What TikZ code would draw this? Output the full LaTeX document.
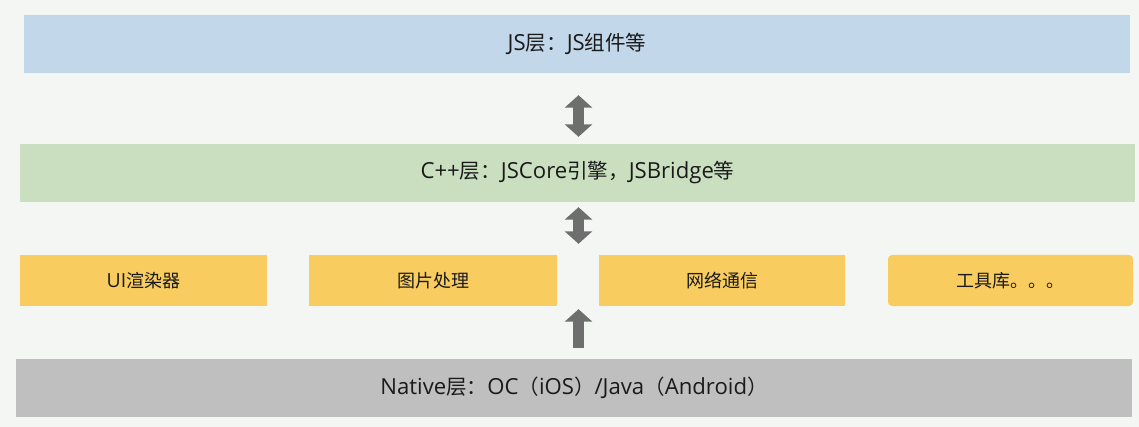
\documentclass[tikz,border=0pt]{standalone}
\usepackage{fontspec}
\setmainfont{Noto Sans CJK SC}
\newfontfamily\lat[Scale=1.08]{Open Sans}
\usetikzlibrary{arrows.meta,positioning}
\definecolor{bgcol}{HTML}{F3F6F2}
\definecolor{jsblue}{HTML}{C2D7EA}
\definecolor{cppgreen}{HTML}{CADFC0}
\definecolor{modyellow}{HTML}{F8CC5E}
\definecolor{nativegray}{HTML}{BFBFBF}
\definecolor{arrowgray}{HTML}{6E6E6E}
\definecolor{txtcol}{HTML}{1A1A1A}
\tikzset{
  layer/.style={inner sep=0pt, text=txtcol, minimum height=58pt, font=\fontsize{20.5}{22}\selectfont},
  module/.style={inner sep=0pt, text=txtcol, fill=modyellow, minimum height=51pt, font=\fontsize{18}{20}\selectfont},
  blockarrow/.style={draw=arrowgray, line width=11pt},
  tip/.tip={Triangle[width=27pt,length=12.5pt]}
}
\begin{document}
\begin{tikzpicture}[x=1pt, y=-1pt, line join=miter]
	\fill[bgcol] (0,0) rectangle (1139,427);
	\useasboundingbox (0,0) rectangle (1139,427);
	\coordinate (axis) at (578.5,0);
	% layers
	\node[layer, fill=jsblue, minimum width=1106pt] (js) at (577,44) {{\lat JS}层：{\lat JS}组件等};
	\node[layer, fill=cppgreen, minimum width=1115pt] (cpp) at (577.5,173) {{\lat C++}层：{\lat JSCore}引擎，{\lat JSBridge}等};
	\node[layer, fill=nativegray, minimum width=1116pt] (native) at (574,388) {{\lat Native}层：{\lat OC}（{\lat iOS}）{\lat /Java}（{\lat Android}）};
	% native modules
	\node[module, minimum width=247pt] (ui) at (143.5,280.5) {{\lat UI}渲染器};
	\node[module, minimum width=248pt] (img) at (433,280.5) {图片处理};
	\node[module, minimum width=246pt] (net) at (722,280.5) {网络通信};
	\node[module, minimum width=245pt, rounded corners=4pt] (tools) at (1010.5,280.5) {工具库。。。};
	% arrows
	\draw[blockarrow, tip-tip, shorten <=22pt, shorten >=7pt] (js.south -| axis) -- (cpp.north -| axis);
	\draw[blockarrow, tip-tip, shorten <=5pt, shorten >=11pt] (cpp.south -| axis) -- (img.north -| axis);
	\draw[blockarrow, -tip, shorten <=11pt, shorten >=3pt] (native.north -| axis) -- (img.south -| axis);
\end{tikzpicture}
\end{document}
